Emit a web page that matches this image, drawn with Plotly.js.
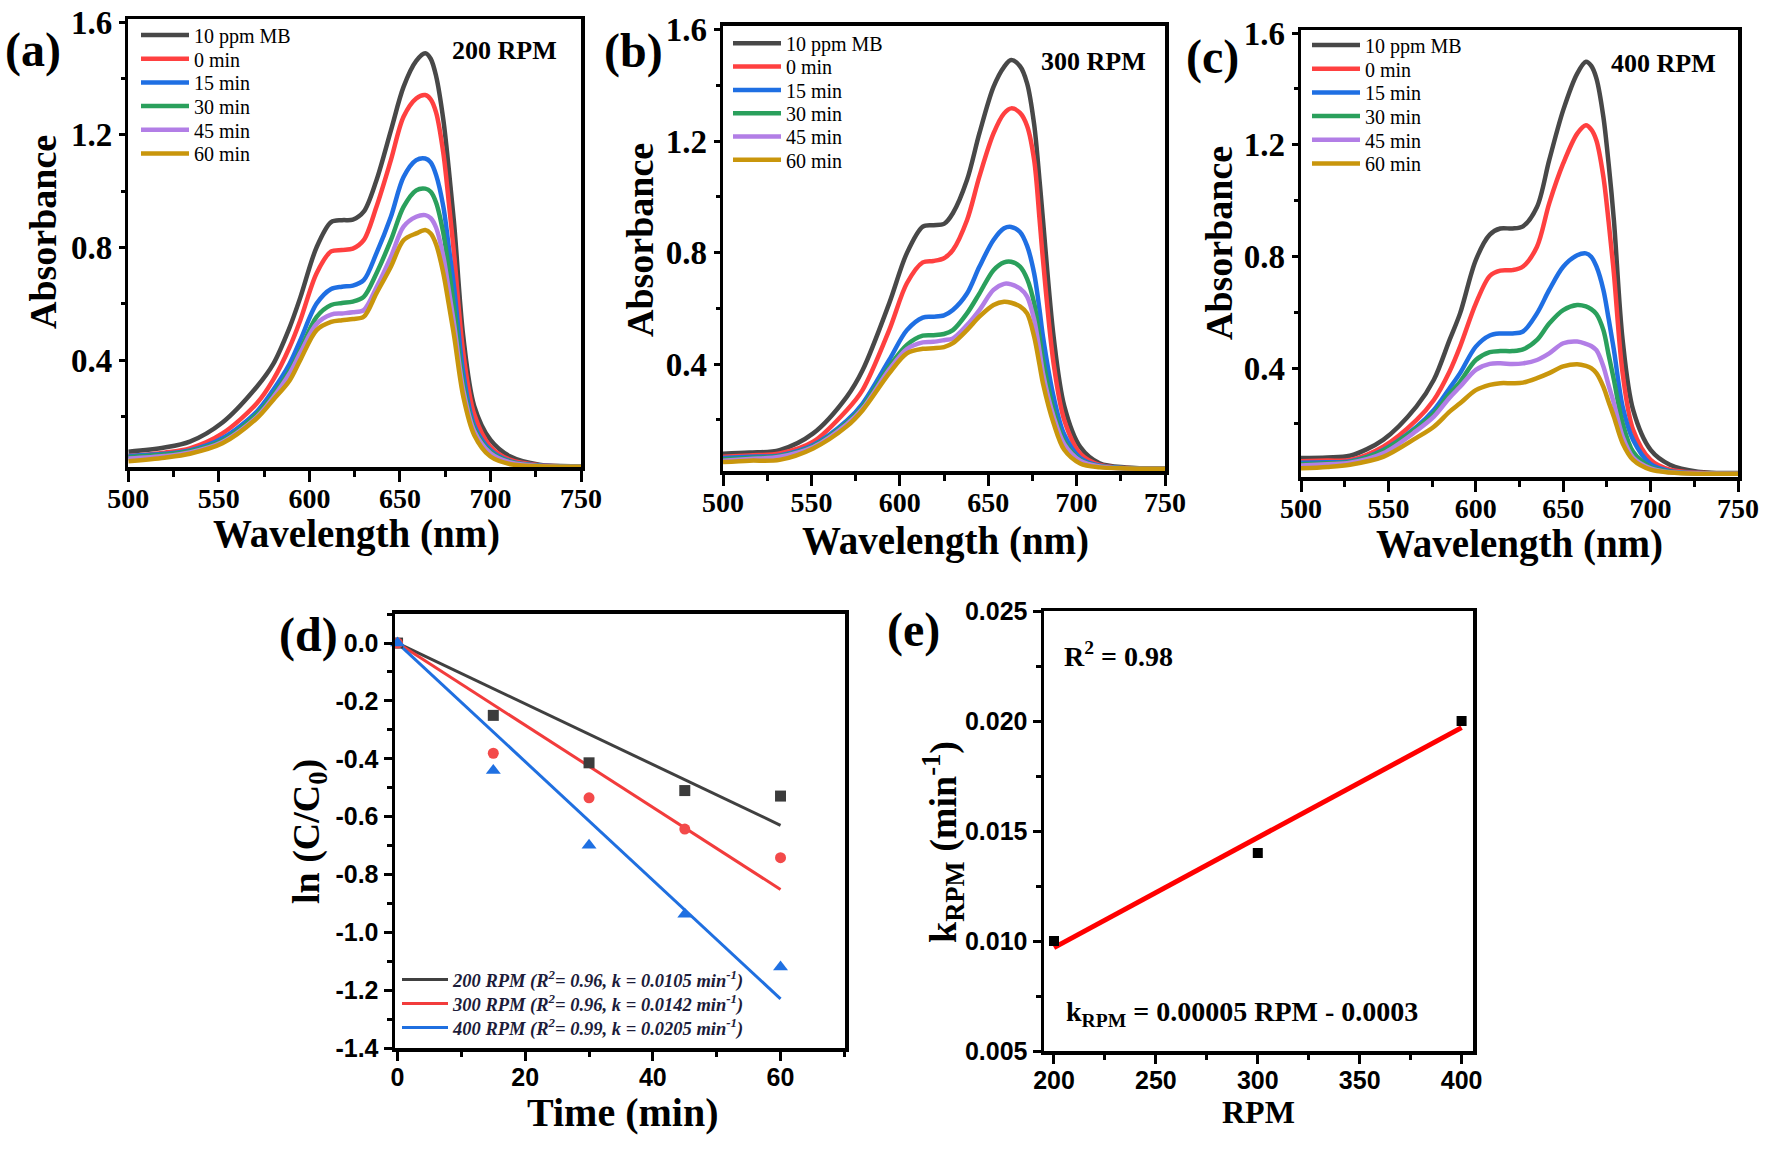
<!DOCTYPE html>
<html>
<head>
<meta charset="utf-8">
<script src="https://cdn.plot.ly/plotly-3.0.1.min.js"></script>
<style>html,body{margin:0;padding:0;background:#fff;}#chart{width:1772px;height:1152px;}</style>
</head>
<body>
<div id="chart"></div>
<script>
// ---------- DATA ----------
const seriesNames = ['10 ppm MB', '0 min', '15 min', '30 min', '45 min', '60 min'];

// Panel (a) 200 RPM
const wlA = [500, 520, 534, 552, 571, 580, 589, 595, 604, 612, 618, 624, 630, 637, 645, 652, 659, 664, 667, 670, 674, 677, 680, 685, 691, 700, 711, 727, 750];
const a_mb = [0.075, 0.090, 0.111, 0.179, 0.306, 0.386, 0.515, 0.623, 0.801, 0.890, 0.897, 0.899, 0.927, 1.038, 1.215, 1.370, 1.462, 1.489, 1.470, 1.408, 1.252, 1.077, 0.880, 0.483, 0.238, 0.117, 0.058, 0.029, 0.024];
const a_0  = [0.060, 0.072, 0.087, 0.140, 0.247, 0.330, 0.445, 0.542, 0.709, 0.786, 0.791, 0.796, 0.826, 0.944, 1.110, 1.264, 1.329, 1.341, 1.326, 1.279, 1.134, 0.959, 0.771, 0.426, 0.209, 0.093, 0.046, 0.027, 0.023];
const a_15 = [0.060, 0.068, 0.080, 0.123, 0.218, 0.294, 0.386, 0.471, 0.601, 0.653, 0.661, 0.665, 0.684, 0.779, 0.909, 1.050, 1.110, 1.116, 1.102, 1.057, 0.944, 0.801, 0.653, 0.354, 0.169, 0.081, 0.041, 0.026, 0.023];
const a_30 = [0.056, 0.065, 0.077, 0.115, 0.209, 0.277, 0.362, 0.436, 0.554, 0.596, 0.603, 0.608, 0.625, 0.708, 0.826, 0.944, 1.003, 1.009, 0.998, 0.959, 0.850, 0.722, 0.584, 0.317, 0.157, 0.075, 0.039, 0.025, 0.023];
const a_45 = [0.051, 0.060, 0.073, 0.110, 0.199, 0.268, 0.352, 0.426, 0.529, 0.562, 0.566, 0.570, 0.578, 0.658, 0.767, 0.874, 0.909, 0.915, 0.904, 0.870, 0.767, 0.648, 0.524, 0.294, 0.149, 0.070, 0.037, 0.025, 0.022];
const a_60 = [0.041, 0.054, 0.068, 0.105, 0.194, 0.259, 0.327, 0.401, 0.507, 0.536, 0.542, 0.546, 0.554, 0.637, 0.732, 0.826, 0.850, 0.862, 0.850, 0.811, 0.708, 0.598, 0.483, 0.271, 0.135, 0.058, 0.031, 0.024, 0.022];

// Panel (b) 300 RPM
const wlB = [500, 515, 532, 551, 570, 579, 594, 604, 613, 619, 625, 630, 638, 645, 653, 659, 663, 668, 672, 676, 679, 681, 687, 693, 702, 713, 728, 750];
const b_mb = [0.079, 0.083, 0.092, 0.152, 0.283, 0.379, 0.618, 0.798, 0.893, 0.898, 0.903, 0.941, 1.060, 1.227, 1.394, 1.466, 1.490, 1.468, 1.407, 1.259, 1.061, 0.916, 0.498, 0.251, 0.104, 0.045, 0.030, 0.027];
const b_0  = [0.068, 0.073, 0.080, 0.122, 0.235, 0.308, 0.522, 0.690, 0.765, 0.770, 0.780, 0.809, 0.916, 1.072, 1.227, 1.299, 1.317, 1.301, 1.254, 1.131, 0.923, 0.773, 0.402, 0.200, 0.080, 0.039, 0.028, 0.026];
const b_15 = [0.064, 0.068, 0.073, 0.110, 0.197, 0.259, 0.415, 0.522, 0.567, 0.570, 0.575, 0.594, 0.653, 0.749, 0.845, 0.887, 0.892, 0.874, 0.824, 0.725, 0.597, 0.498, 0.283, 0.148, 0.064, 0.036, 0.027, 0.026];
const b_30 = [0.059, 0.064, 0.071, 0.106, 0.190, 0.248, 0.391, 0.469, 0.502, 0.504, 0.508, 0.522, 0.582, 0.653, 0.737, 0.765, 0.767, 0.750, 0.706, 0.618, 0.498, 0.415, 0.235, 0.123, 0.057, 0.034, 0.027, 0.025];
const b_45 = [0.054, 0.060, 0.068, 0.103, 0.185, 0.241, 0.380, 0.454, 0.478, 0.480, 0.486, 0.492, 0.540, 0.594, 0.666, 0.688, 0.686, 0.671, 0.642, 0.559, 0.449, 0.367, 0.212, 0.113, 0.054, 0.033, 0.026, 0.025];
const b_60 = [0.049, 0.054, 0.057, 0.098, 0.177, 0.235, 0.367, 0.439, 0.455, 0.457, 0.461, 0.475, 0.522, 0.570, 0.612, 0.624, 0.620, 0.607, 0.582, 0.498, 0.399, 0.331, 0.188, 0.093, 0.044, 0.030, 0.026, 0.025];

// Panel (c) 400 RPM
const wlC = [500, 515, 528, 547, 566, 576, 585, 591, 600, 608, 614, 621, 627, 635, 642, 650, 658, 663, 666, 669, 673, 676, 679, 684, 690, 700, 711, 727, 750];
const c_mb = [0.078, 0.080, 0.086, 0.143, 0.262, 0.358, 0.501, 0.596, 0.787, 0.878, 0.900, 0.900, 0.908, 0.977, 1.145, 1.324, 1.455, 1.497, 1.483, 1.438, 1.299, 1.131, 0.930, 0.501, 0.250, 0.107, 0.054, 0.029, 0.024];
const c_0  = [0.066, 0.069, 0.071, 0.119, 0.214, 0.286, 0.388, 0.477, 0.631, 0.730, 0.749, 0.751, 0.764, 0.835, 0.990, 1.133, 1.240, 1.270, 1.255, 1.215, 1.085, 0.923, 0.739, 0.382, 0.179, 0.071, 0.036, 0.025, 0.023];
const c_15 = [0.061, 0.063, 0.066, 0.107, 0.189, 0.250, 0.328, 0.382, 0.477, 0.517, 0.524, 0.524, 0.531, 0.596, 0.680, 0.763, 0.804, 0.811, 0.799, 0.764, 0.680, 0.576, 0.465, 0.262, 0.143, 0.056, 0.031, 0.024, 0.022];
const c_30 = [0.056, 0.059, 0.064, 0.105, 0.185, 0.238, 0.308, 0.351, 0.429, 0.457, 0.461, 0.461, 0.467, 0.501, 0.560, 0.608, 0.626, 0.621, 0.611, 0.594, 0.536, 0.447, 0.358, 0.202, 0.100, 0.046, 0.029, 0.023, 0.022];
const c_45 = [0.051, 0.056, 0.061, 0.095, 0.175, 0.226, 0.294, 0.333, 0.394, 0.415, 0.417, 0.415, 0.417, 0.429, 0.453, 0.489, 0.495, 0.487, 0.479, 0.464, 0.406, 0.338, 0.274, 0.155, 0.080, 0.041, 0.027, 0.023, 0.022];
const c_60 = [0.041, 0.046, 0.054, 0.082, 0.150, 0.190, 0.244, 0.274, 0.321, 0.340, 0.346, 0.346, 0.348, 0.364, 0.382, 0.406, 0.414, 0.408, 0.400, 0.382, 0.333, 0.279, 0.226, 0.131, 0.071, 0.036, 0.026, 0.022, 0.022];

const wlTicks = [500, 550, 600, 650, 700, 750];
const absTicks = [0.4, 0.8, 1.2, 1.6];
const absTickText = ['0.4', '0.8', '1.2', '1.6'];

// Panel (d) kinetics
const timeMin = [0, 15, 30, 45, 60];
const ln200 = [0, -0.25, -0.414, -0.51, -0.529];
const ln300 = [0, -0.381, -0.535, -0.643, -0.742];
const ln400 = [0, -0.441, -0.699, -0.938, -1.12];
const fitTime = [0, 60];
const fit200 = [0, -0.63];
const fit300 = [0, -0.852];
const fit400 = [0, -1.23];
const fitNames = [
  '200 RPM (R<sup>2</sup>= 0.96, k = 0.0105 min<sup>-1</sup>)',
  '300 RPM (R<sup>2</sup>= 0.96, k = 0.0142 min<sup>-1</sup>)',
  '400 RPM (R<sup>2</sup>= 0.99, k = 0.0205 min<sup>-1</sup>)'
];
const timeTicks = [0, 20, 40, 60];
const lnTicks = [0, -0.2, -0.4, -0.6, -0.8, -1.0, -1.2, -1.4];
const lnTickText = ['0.0', '-0.2', '-0.4', '-0.6', '-0.8', '-1.0', '-1.2', '-1.4'];

// Panel (e) rate constant vs RPM
const rpm = [200, 300, 400];
const kRpm = [0.0100, 0.0140, 0.0200];
const fitRpm = [200, 400];
const fitK = [0.0097, 0.0197];
const rpmTicks = [200, 250, 300, 350, 400];
const kTicks = [0.005, 0.010, 0.015, 0.020, 0.025];
const kTickText = ['0.005', '0.010', '0.015', '0.020', '0.025'];

// ---------- STYLE ----------
const W = 1772, H = 1152;
const SERIF = 'Liberation Serif, Times New Roman, serif';
const SANS = 'Liberation Sans, Arial, sans-serif';
const specColors = ['#484848', '#ff4040', '#1f6fe3', '#2aa05c', '#b27ee6', '#c9960c'];
const px = v => v / W;
const py = v => 1 - v / H;

const traces = [];
const layout = {
  width: W, height: H, margin: {l: 0, r: 0, t: 0, b: 0},
  paper_bgcolor: '#fff', plot_bgcolor: '#fff', hovermode: false, showlegend: true
};

let legendCount = 0;
function newLegend(x, yc, font, itemwidth) {
  legendCount += 1;
  const key = legendCount === 1 ? 'legend' : 'legend' + legendCount;
  layout[key] = {
    x: px(x), y: py(yc), xanchor: 'left', yanchor: 'middle', bgcolor: 'rgba(0,0,0,0)', borderwidth: 0,
    font: font, itemwidth: itemwidth, tracegroupgap: 0, valign: 'middle'
  };
  return key;
}

const legFont = {family: SERIF, size: 20, color: '#000'};
function addSpectra(wl, arrs, xa, ya, legX, legY0, legStep) {
  arrs.forEach((arr, i) => {
    const lg = newLegend(legX, legY0 + i * legStep, legFont, 48);
    traces.push({
      type: 'scatter', mode: 'lines', x: wl, y: arr, name: seriesNames[i],
      xaxis: xa, yaxis: ya, legend: lg,
      line: {color: specColors[i], width: 4.5, shape: 'spline', smoothing: 0.9}
    });
  });
}
addSpectra(wlA, [a_mb, a_0, a_15, a_30, a_45, a_60], 'x', 'y', 136, 35, 23.7);
addSpectra(wlB, [b_mb, b_0, b_15, b_30, b_45, b_60], 'x2', 'y2', 728, 43.3, 23.3);
addSpectra(wlC, [c_mb, c_0, c_15, c_30, c_45, c_60], 'x3', 'y3', 1307, 45, 23.7);

// Panel d
const dCols = ['#404040', '#f23c3c', '#1f6fe0'];
const dLegFont = {family: SERIF, size: 18.5, color: '#1c1c3a', weight: 'bold', style: 'italic'};
[fit200, fit300, fit400].forEach((f, i) => {
  const lg = newLegend(397, 980 + i * 24, dLegFont, 46);
  traces.push({
    type: 'scatter', mode: 'lines', x: fitTime, y: f, name: fitNames[i],
    xaxis: 'x4', yaxis: 'y4', legend: lg,
    line: {color: dCols[i], width: 3}
  });
});
[[ln200, 'square', '#3c3c3c', 11], [ln300, 'circle', '#f34a4a', 11], [ln400, 'triangle-up', '#1f70e2', 13]].forEach(s => {
  traces.push({
    type: 'scatter', mode: 'markers', x: timeMin, y: s[0], showlegend: false,
    xaxis: 'x4', yaxis: 'y4', cliponaxis: false,
    marker: {symbol: s[1], size: s[3], color: s[2]}
  });
});

// Panel e
traces.push({
  type: 'scatter', mode: 'lines', x: fitRpm, y: fitK, showlegend: false,
  xaxis: 'x5', yaxis: 'y5', line: {color: '#ff0000', width: 5}
});
traces.push({
  type: 'scatter', mode: 'markers', x: rpm, y: kRpm, showlegend: false,
  xaxis: 'x5', yaxis: 'y5', cliponaxis: false,
  marker: {symbol: 'square', size: 10, color: '#000'}
});

function axisBase(font) {
  return {
    showgrid: false, zeroline: false, showline: true, linecolor: '#000', linewidth: 3.5,
    mirror: true, ticks: 'outside', tickcolor: '#000', tickwidth: 3,
    tickfont: font, fixedrange: true
  };
}
const serifTick = {family: SERIF, size: 28, weight: 'bold', color: '#000'};
const serifTickY = {family: SERIF, size: 33, weight: 'bold', color: '#000'};
const sansTick = {family: SANS, size: 25, weight: 'bold', color: '#000'};

function specX(dom, anchor) {
  return Object.assign(axisBase(serifTick), {
    domain: dom, anchor: anchor, range: [500, 750], tickmode: 'array', tickvals: wlTicks,
    ticklen: 11, ticklabelstandoff: -7,
    minor: {dtick: 25, ticks: 'outside', ticklen: 6, tickwidth: 3, tickcolor: '#000', showgrid: false}
  });
}
function specY(dom, anchor, range) {
  return Object.assign(axisBase(serifTickY), {
    domain: dom, anchor: anchor, range: range, tickmode: 'array', tickvals: absTicks, ticktext: absTickText,
    ticklen: 6, minor: {tick0: 0, dtick: 0.2, ticks: 'outside', ticklen: 4, tickwidth: 3, tickcolor: '#000', showgrid: false}
  });
}

Object.assign(layout, {
  xaxis: specX([px(128.3), px(581)], 'y'),
  yaxis: specY([py(467), py(19)], 'x', [0.021, 1.611]),
  xaxis2: specX([px(723), px(1165)], 'y2'),
  yaxis2: specY([py(471), py(25.8)], 'x2', [0.017, 1.613]),
  xaxis3: specX([px(1301), px(1738)], 'y3'),
  yaxis3: specY([py(477), py(30)], 'x3', [0.010, 1.611]),
  xaxis4: Object.assign(axisBase(sansTick), {
    domain: [px(395), px(845)], anchor: 'y4', range: [-0.4, 70.1], tickmode: 'array', tickvals: timeTicks,
    ticklen: 9, ticklabelstandoff: -5,
    minor: {dtick: 10, ticks: 'outside', ticklen: 5, tickwidth: 3, tickcolor: '#000', showgrid: false}
  }),
  yaxis4: Object.assign(axisBase(sansTick), {
    domain: [py(1048), py(613.7)], anchor: 'x4', range: [-1.4, 0.1015], tickmode: 'array', tickvals: lnTicks, ticktext: lnTickText,
    ticklen: 8, minor: {dtick: 0.1, ticks: 'outside', ticklen: 5, tickwidth: 3, tickcolor: '#000', showgrid: false}
  }),
  xaxis5: Object.assign(axisBase(sansTick), {
    domain: [px(1044), px(1473)], anchor: 'y5', range: [195.1, 405.6], tickmode: 'array', tickvals: rpmTicks,
    ticklen: 9, ticklabelstandoff: -5,
    minor: {dtick: 25, ticks: 'outside', ticklen: 5, tickwidth: 3, tickcolor: '#000', showgrid: false}
  }),
  yaxis5: Object.assign(axisBase(sansTick), {
    domain: [py(1051), py(611)], anchor: 'x5', range: [0.005, 0.025], tickmode: 'array', tickvals: kTicks, ticktext: kTickText,
    ticklen: 8, minor: {dtick: 0.0025, ticks: 'outside', ticklen: 5, tickwidth: 3, tickcolor: '#000', showgrid: false}
  })
});

const anns = [];
function ann(text, x, y, size, opts) {
  anns.push(Object.assign({
    text: text, xref: 'paper', yref: 'paper', x: px(x), y: py(y), xanchor: 'center', yanchor: 'middle',
    showarrow: false, font: {family: SERIF, size: size, color: '#000', weight: 'bold'}
  }, opts || {}));
}
// panel letters
ann('(a)', 33, 50, 48);
ann('(b)', 633, 51, 48);
ann('(c)', 1212, 57, 48);
ann('(d)', 308, 635, 48);
ann('(e)', 913, 630, 48);
// RPM labels
ann('200 RPM', 505, 50, 26);
ann('300 RPM', 1093, 62, 26);
ann('400 RPM', 1663, 63, 26);
// axis titles spectra
ann('Absorbance', 43, 232, 38, {textangle: -90});
ann('Absorbance', 640, 240, 38, {textangle: -90});
ann('Absorbance', 1219, 243, 38, {textangle: -90});
ann('Wavelength (nm)', 356, 534, 39);
ann('Wavelength (nm)', 945, 541, 39);
ann('Wavelength (nm)', 1519, 544, 39);
// panel d titles
ann('ln (C/C<sub>0</sub>)', 309, 832, 38, {textangle: -90});
ann('Time (min)', 622, 1112, 40);
// panel e titles and texts
ann('k<sub>RPM</sub> (min<sup>-1</sup>)', 943, 842, 38, {textangle: -90});
ann('RPM', 1258, 1112, 32);
ann('R<sup>2</sup> = 0.98', 1062, 654, 28, {xanchor: 'left'});
ann('k<sub>RPM</sub> = 0.00005 RPM - 0.0003', 1064, 1013, 28, {xanchor: 'left'});
layout.annotations = anns;

Plotly.newPlot('chart', traces, layout, {displayModeBar: false, staticPlot: true});
</script>
</body>
</html>
